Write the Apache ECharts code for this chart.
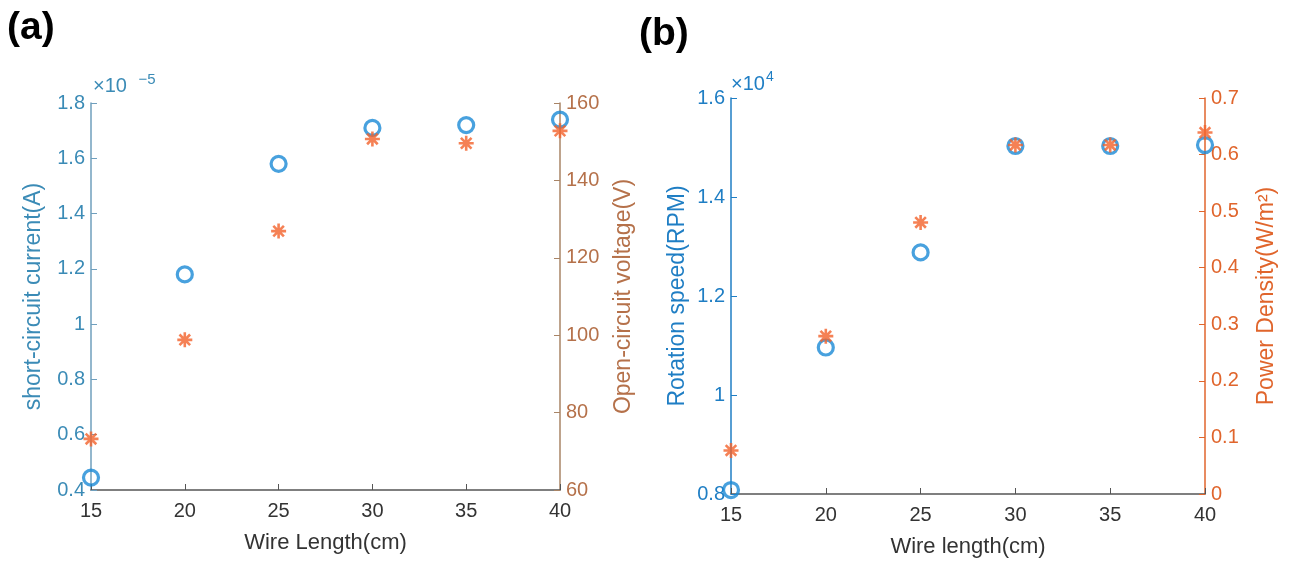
<!DOCTYPE html>
<html>
<head>
<meta charset="utf-8">
<script src="https://cdn.jsdelivr.net/npm/echarts@6/dist/echarts.min.js"></script>
<style>html,body{margin:0;padding:0;background:#fff}#c{width:1291px;height:563px}</style>
</head>
<body>
<div id="c"></div>
<script>
// ---- data ----
const wireLength = [15, 20, 25, 30, 35, 40];
// panel (a): short-circuit current in units of 1e-5 A, open-circuit voltage in V
const shortCircuitCurrent = [0.445, 1.18, 1.58, 1.71, 1.72, 1.74];
const openCircuitVoltage = [73.2, 98.8, 126.9, 150.7, 149.6, 152.8];
// panel (b): rotation speed in RPM, power density in W/m^2
const rotationSpeed = [8080, 10960, 12880, 15030, 15030, 15050];
const powerDensity = [0.077, 0.279, 0.480, 0.617, 0.617, 0.639];

const FONT = 'Liberation Sans, Arial, sans-serif';
const circleColor = '#1a8ad6';
const starColor = '#f2622a';
const starPath = 'path://M0,-10L0,10M-10,0L10,0M-7.07,-7.07L7.07,7.07M-7.07,7.07L7.07,-7.07';

function pairs(xs, ys) { return xs.map((x, i) => [x, ys[i]]); }

function xAxisCfg(gridIndex, name) {
  return {
    type: 'value', gridIndex, min: 15, max: 40, interval: 5,
    name, nameLocation: 'middle', nameGap: 42,
    nameTextStyle: { color: '#333', fontSize: 22, fontFamily: FONT },
    axisLine: { show: true, onZero: false, lineStyle: { color: '#555', width: 1.5 } },
    axisTick: { show: true, inside: true, length: 6, lineStyle: { color: '#555' } },
    axisLabel: { color: '#333', fontSize: 20, fontFamily: FONT, margin: 11 },
    splitLine: { show: false }
  };
}
function yAxisCfg(gridIndex, position, min, max, interval, name, lineColor, textColor, gap, formatter) {
  return {
    type: 'value', gridIndex, position, min, max, interval,
    name, nameLocation: 'middle', nameGap: gap, nameRotate: 90,
    nameTextStyle: { color: textColor, fontSize: 23, fontFamily: FONT },
    axisLine: { show: true, onZero: false, lineStyle: { color: lineColor, width: 1.5 } },
    axisTick: { show: true, inside: true, length: 6, lineStyle: { color: lineColor } },
    axisLabel: { color: textColor, fontSize: 20, fontFamily: FONT, margin: 6, formatter },
    splitLine: { show: false }
  };
}

const circleStyle = { color: 'rgba(255,255,255,0)', borderColor: circleColor, borderWidth: 3.2 };
const starStyle = { color: 'rgba(255,255,255,0)', borderColor: starColor, borderWidth: 2.6 };

const chart = echarts.init(document.getElementById('c'), null, { renderer: 'canvas' });
chart.setOption({
  backgroundColor: '#fff',
  animation: false,
  grid: [
    { left: 91, right: 731, top: 103, bottom: 73 },
    { left: 731, right: 86, top: 98, bottom: 69 }
  ],
  xAxis: [
    xAxisCfg(0, 'Wire Length(cm)'),
    xAxisCfg(1, 'Wire length(cm)')
  ],
  yAxis: [
    yAxisCfg(0, 'left', 0.4, 1.8, 0.2, 'short-circuit current(A)', '#6f9fbd', '#3b8bb6', 46,
      v => String(Math.round(v * 10) / 10)),
    yAxisCfg(0, 'right', 60, 160, 20, 'Open-circuit voltage(V)', '#a98466', '#b5714a', 52),
    yAxisCfg(1, 'left', 8000, 16000, 2000, 'Rotation speed(RPM)', '#1f7ec4', '#1f7ec4', 42,
      v => String(Math.round(v / 1000) / 10)),
    yAxisCfg(1, 'right', 0, 0.7, 0.1, 'Power Density(W/m²)', '#e0652c', '#e0652c', 50,
      v => String(Math.round(v * 10) / 10))
  ],
  series: [
    { type: 'scatter', xAxisIndex: 0, yAxisIndex: 0, data: pairs(wireLength, shortCircuitCurrent),
      symbol: 'circle', symbolSize: 15, clip: false, itemStyle: circleStyle },
    { type: 'scatter', xAxisIndex: 0, yAxisIndex: 1, data: pairs(wireLength, openCircuitVoltage),
      symbol: starPath, symbolSize: 15, clip: false, itemStyle: starStyle },
    { type: 'scatter', xAxisIndex: 1, yAxisIndex: 2, data: pairs(wireLength, rotationSpeed),
      symbol: 'circle', symbolSize: 15, clip: false, itemStyle: circleStyle },
    { type: 'scatter', xAxisIndex: 1, yAxisIndex: 3, data: pairs(wireLength, powerDensity),
      symbol: starPath, symbolSize: 15, clip: false, itemStyle: starStyle }
  ],
  graphic: [
    { type: 'text', left: 7, top: 9, style: { text: '(a)', font: 'bold 39px ' + FONT, fill: '#000' } },
    { type: 'text', left: 639, top: 15, style: { text: '(b)', font: 'bold 39px ' + FONT, fill: '#000' } },
    { type: 'text', left: 93, top: 72, style: {
        text: '{a|×10 }{b|−5}', rich: {
          a: { fontSize: 20, fontFamily: FONT, fill: '#3b8bb6', padding: [6, 0, 0, 0] },
          b: { fontSize: 15, fontFamily: FONT, fill: '#3b8bb6', padding: [0, 0, 8, 6] } } } },
    { type: 'text', left: 731, top: 70, style: {
        text: '{a|×10}{b|4}', rich: {
          a: { fontSize: 20, fontFamily: FONT, fill: '#1f7ec4', padding: [6, 0, 0, 0] },
          b: { fontSize: 14, fontFamily: FONT, fill: '#1f7ec4', padding: [0, 0, 8, 1] } } } }
  ]
});
</script>
</body>
</html>
